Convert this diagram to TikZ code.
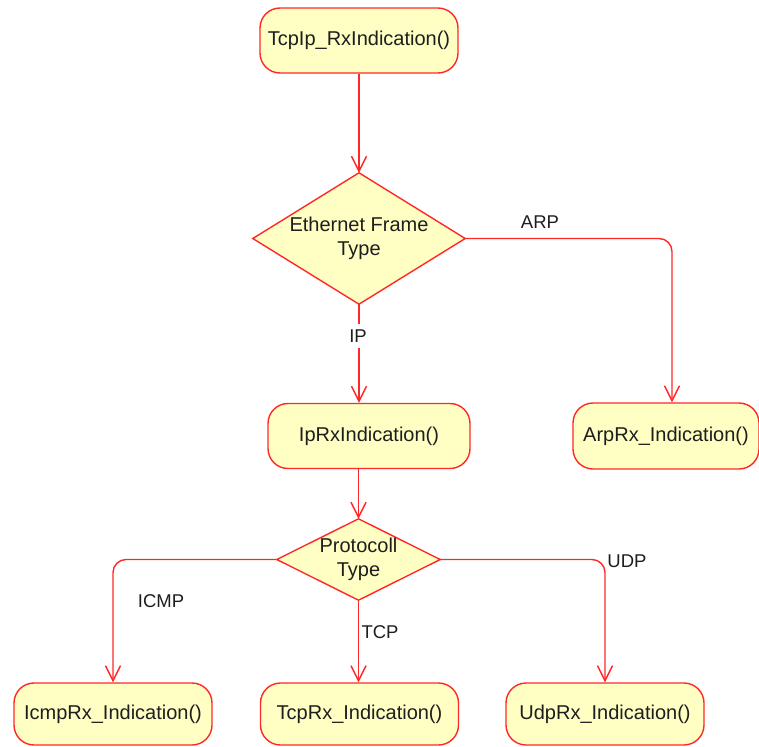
\documentclass[tikz,border=0pt]{standalone}
\usepackage{fontspec}
\setmainfont{Liberation Sans}
\usetikzlibrary{arrows.meta,backgrounds}

\definecolor{boxfill}{RGB}{255,255,196}
\definecolor{flowred}{RGB}{255,40,40}
\definecolor{ink}{RGB}{30,30,30}

\tikzset{
  x=1bp, y=-1bp,
  func/.style={draw=flowred, fill=boxfill, line width=1.4bp, rounded corners=20bp,
    minimum width=198bp, minimum height=65bp, inner sep=0pt, text=ink,
    font=\fontsize{20bp}{24bp}\selectfont},
  choice/.style={inner sep=0pt, align=center, text=ink,
    font=\fontsize{20bp}{24bp}\selectfont},
  diamondline/.style={draw=flowred, fill=boxfill, line width=1.4bp, line join=miter},
  flow/.style={draw=flowred, line width=1.4bp,
    -{Straight Barb[length=15bp,width=15bp,line width=1.4bp]}},
  elbow/.style={rounded corners=13bp},
  tag/.style={text=ink, font=\fontsize{18.5bp}{22bp}\selectfont, inner sep=2bp},
}

\begin{document}
\begin{tikzpicture}
\useasboundingbox (0,0) rectangle (759,747);
\clip (0,0) rectangle (759,747);

% function boxes
\node[func] (rx)   at (359,40.5) {TcpIp\_RxIndication()};
\node[func, minimum width=202bp] (ip)   at (369,436) {IpRxIndication()};
\node[func, minimum width=186bp, minimum height=66bp] (arp)  at (666,436) {ArpRx\_Indication()};
\node[func, minimum height=62bp] (icmp) at (113,714) {IcmpRx\_Indication()};
\node[func, minimum height=62bp] (tcp)  at (359.5,714) {TcpRx\_Indication()};
\node[func, minimum height=62bp] (udp)  at (605,714) {UdpRx\_Indication()};

% decisions: text nodes with the diamond outline drawn behind them
\node[choice, minimum width=212bp, minimum height=131bp] (eth) at (359,238.5) {Ethernet Frame\\Type};
\node[choice, minimum width=163bp, minimum height=81bp] (proto) at (358.5,559.5) {Protocoll\\Type};
\begin{scope}[on background layer]
  \draw[diamondline] (eth.north) -- (eth.east) -- (eth.south) -- (eth.west) -- cycle;
  \draw[diamondline] (proto.north) -- (proto.east) -- (proto.south) -- (proto.west) -- cycle;
\end{scope}

% arrival point on the ARP box, slightly right of its centre
\coordinate (arpin) at ([xshift=6bp]arp.north);

% connectors
\draw[flow] (rx.south) -- (eth.north);
\draw[flow] (eth.south) -- (eth.south |- ip.north);
\draw[flow, elbow] (eth.east) -| (arpin);
\draw[flow] (proto.north |- ip.south) -- (proto.north);
\draw[flow, elbow] (proto.west) -| (icmp.north);
\draw[flow] (proto.south) -- (proto.south |- tcp.north);
\draw[flow, elbow] (proto.east) -| (udp.north);

% branch labels
\node[tag, fill=white, inner ysep=6bp] (lip) at (358,336) {IP};
\node[tag] (larp)  at (540,222) {ARP};
\node[tag] (licmp) at (161,601) {ICMP};
\node[tag] (ltcp)  at (380,632) {TCP};
\node[tag] (ludp)  at (627,561) {UDP};
\end{tikzpicture}
\end{document}
